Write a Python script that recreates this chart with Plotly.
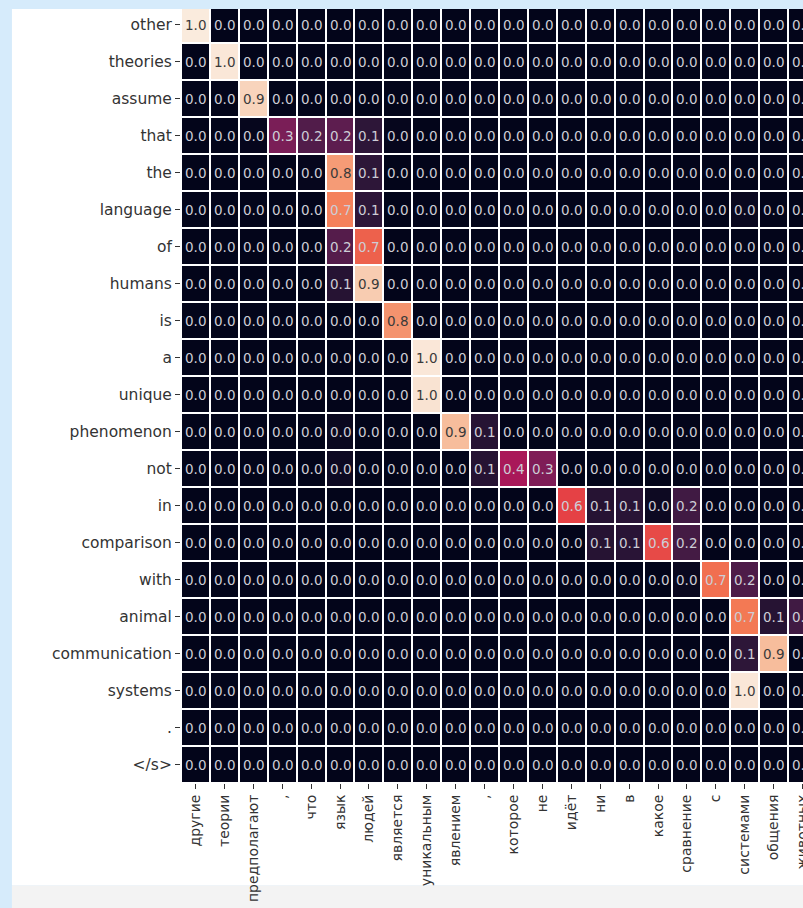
import plotly.graph_objects as go

# ---------------- data ----------------
src_tokens = ["other", "theories", "assume", "that", "the", "language", "of", "humans",
              "is", "a", "unique", "phenomenon", "not", "in", "comparison", "with",
              "animal", "communication", "systems", ".", "</s>"]
tgt_tokens = ["другие", "теории", "предполагают", ",", "что", "язык", "людей", "является",
              "уникальным", "явлением", ",", "которое", "не", "идёт", "ни", "в", "какое",
              "сравнение", "с", "системами", "общения", "животных"]

#                 0     1     2     3     4     5     6     7     8     9    10    11    12    13    14    15    16    17    18    19    20    21
w_other =        [1.00, 0.00, 0.00, 0.00, 0.00, 0.00, 0.00, 0.00, 0.00, 0.00, 0.00, 0.00, 0.00, 0.00, 0.00, 0.00, 0.00, 0.00, 0.00, 0.00, 0.00, 0.00]
w_theories =     [0.00, 0.99, 0.00, 0.00, 0.00, 0.00, 0.00, 0.00, 0.00, 0.00, 0.00, 0.00, 0.00, 0.00, 0.00, 0.00, 0.00, 0.00, 0.00, 0.00, 0.00, 0.00]
w_assume =       [0.00, 0.00, 0.94, 0.00, 0.00, 0.00, 0.00, 0.00, 0.00, 0.00, 0.00, 0.00, 0.00, 0.00, 0.00, 0.00, 0.00, 0.00, 0.00, 0.00, 0.00, 0.00]
w_that =         [0.00, 0.00, 0.01, 0.31, 0.21, 0.24, 0.12, 0.01, 0.00, 0.00, 0.00, 0.00, 0.00, 0.00, 0.00, 0.00, 0.00, 0.00, 0.00, 0.00, 0.00, 0.00]
w_the =          [0.00, 0.00, 0.00, 0.00, 0.01, 0.80, 0.12, 0.00, 0.00, 0.00, 0.00, 0.00, 0.00, 0.00, 0.00, 0.00, 0.00, 0.00, 0.00, 0.00, 0.00, 0.00]
w_language =     [0.00, 0.00, 0.00, 0.00, 0.00, 0.74, 0.12, 0.00, 0.00, 0.00, 0.00, 0.00, 0.00, 0.00, 0.00, 0.00, 0.00, 0.00, 0.00, 0.02, 0.00, 0.00]
w_of =           [0.00, 0.00, 0.00, 0.00, 0.00, 0.22, 0.67, 0.00, 0.00, 0.00, 0.00, 0.00, 0.00, 0.00, 0.00, 0.00, 0.00, 0.00, 0.00, 0.00, 0.00, 0.00]
w_humans =       [0.00, 0.00, 0.00, 0.00, 0.00, 0.10, 0.92, 0.00, 0.00, 0.00, 0.00, 0.00, 0.00, 0.00, 0.00, 0.00, 0.00, 0.00, 0.00, 0.00, 0.00, 0.00]
w_is =           [0.00, 0.00, 0.00, 0.00, 0.00, 0.00, 0.00, 0.78, 0.00, 0.00, 0.00, 0.00, 0.00, 0.00, 0.00, 0.00, 0.00, 0.00, 0.00, 0.00, 0.00, 0.00]
w_a =            [0.00, 0.00, 0.00, 0.00, 0.00, 0.00, 0.00, 0.00, 0.99, 0.00, 0.00, 0.00, 0.00, 0.00, 0.00, 0.00, 0.00, 0.00, 0.00, 0.00, 0.00, 0.00]
w_unique =       [0.00, 0.00, 0.00, 0.00, 0.00, 0.00, 0.00, 0.00, 0.98, 0.00, 0.00, 0.00, 0.00, 0.00, 0.00, 0.00, 0.00, 0.00, 0.00, 0.00, 0.00, 0.00]
w_phenomenon =   [0.00, 0.00, 0.00, 0.00, 0.00, 0.02, 0.00, 0.00, 0.00, 0.88, 0.10, 0.00, 0.00, 0.00, 0.00, 0.00, 0.00, 0.00, 0.00, 0.00, 0.00, 0.00]
w_not =          [0.00, 0.00, 0.00, 0.00, 0.00, 0.03, 0.00, 0.00, 0.00, 0.00, 0.10, 0.42, 0.32, 0.00, 0.00, 0.00, 0.00, 0.00, 0.00, 0.00, 0.00, 0.00]
w_in =           [0.00, 0.00, 0.00, 0.00, 0.00, 0.00, 0.00, 0.00, 0.00, 0.00, 0.00, 0.00, 0.00, 0.60, 0.10, 0.11, 0.03, 0.17, 0.00, 0.00, 0.00, 0.00]
w_comparison =   [0.00, 0.00, 0.00, 0.00, 0.00, 0.00, 0.00, 0.00, 0.00, 0.00, 0.00, 0.00, 0.00, 0.00, 0.10, 0.11, 0.62, 0.18, 0.00, 0.00, 0.00, 0.00]
w_with =         [0.00, 0.00, 0.00, 0.00, 0.00, 0.00, 0.00, 0.00, 0.00, 0.00, 0.00, 0.00, 0.00, 0.00, 0.00, 0.00, 0.00, 0.02, 0.70, 0.20, 0.00, 0.00]
w_animal =       [0.00, 0.00, 0.00, 0.00, 0.00, 0.00, 0.00, 0.00, 0.00, 0.00, 0.00, 0.00, 0.00, 0.00, 0.00, 0.00, 0.00, 0.00, 0.00, 0.72, 0.10, 0.17]
w_communication =[0.00, 0.00, 0.00, 0.00, 0.00, 0.00, 0.00, 0.00, 0.00, 0.00, 0.00, 0.00, 0.00, 0.00, 0.00, 0.00, 0.00, 0.00, 0.00, 0.12, 0.88, 0.00]
w_systems =      [0.00, 0.00, 0.00, 0.00, 0.00, 0.00, 0.00, 0.00, 0.00, 0.00, 0.00, 0.00, 0.00, 0.00, 0.00, 0.00, 0.00, 0.00, 0.00, 0.99, 0.00, 0.00]
w_period =       [0.00, 0.00, 0.00, 0.00, 0.00, 0.00, 0.00, 0.00, 0.00, 0.00, 0.00, 0.00, 0.00, 0.00, 0.00, 0.00, 0.00, 0.00, 0.00, 0.00, 0.00, 0.00]
w_eos =          [0.00, 0.00, 0.00, 0.00, 0.00, 0.00, 0.00, 0.00, 0.00, 0.00, 0.00, 0.00, 0.00, 0.00, 0.00, 0.00, 0.00, 0.00, 0.00, 0.00, 0.00, 0.00]

weights = [w_other, w_theories, w_assume, w_that, w_the, w_language, w_of, w_humans,
           w_is, w_a, w_unique, w_phenomenon, w_not, w_in, w_comparison, w_with,
           w_animal, w_communication, w_systems, w_period, w_eos]

# ---------------- style ----------------
rocket_stops = [(0.000, "#03051a"), (0.143, "#35193e"), (0.286, "#701f57"), (0.429, "#ad1759"),
                (0.571, "#e13342"), (0.714, "#f37651"), (0.857, "#f6b48f"), (1.000, "#faebdd")]


def hex2rgb(h):
    h = h.lstrip("#")
    return [int(h[i:i + 2], 16) / 255.0 for i in (0, 2, 4)]


def cmap(v):
    v = min(max(v, 0.0), 1.0)
    for (p0, c0), (p1, c1) in zip(rocket_stops[:-1], rocket_stops[1:]):
        if v <= p1:
            t = (v - p0) / (p1 - p0)
            a, b = hex2rgb(c0), hex2rgb(c1)
            return [a[i] + (b[i] - a[i]) * t for i in range(3)]
    return hex2rgb(rocket_stops[-1][1])


def luminance(rgb):
    lin = [c / 12.92 if c <= 0.03928 else ((c + 0.055) / 1.055) ** 2.4 for c in rgb]
    return 0.2126 * lin[0] + 0.7152 * lin[1] + 0.0722 * lin[2]


FONT = "DejaVu Sans"
W, H = 830, 908
L, T = 181, 6
CELL_W, CELL_H = 28.9, 37.19
ncol, nrow = len(tgt_tokens), len(src_tokens)
PW, PH = CELL_W * ncol, CELL_H * nrow
R = W - L - PW
B = H - T - PH


def fx(px):
    return (px - L) / PW


def fy(py):
    return 1 - (py - T) / PH


fig = go.Figure(go.Heatmap(
    z=weights,
    x=list(range(ncol)),
    y=list(range(nrow)),
    zmin=0, zmax=1,
    colorscale=[[p, c] for p, c in rocket_stops],
    showscale=False,
    xgap=2, ygap=2,
    hoverinfo="skip",
))

annotations = []
for i, row in enumerate(weights):
    for j, v in enumerate(row):
        col = "#3a3a3a" if luminance(cmap(v)) > 0.408 else "#cdcdd6"
        annotations.append(dict(x=j, y=i, xref="x", yref="y", text=f"{v:.1f}",
                                showarrow=False, font=dict(family=FONT, size=13.5, color=col)))


def esc(s):
    return s.replace("&", "&amp;").replace("<", "&lt;").replace(">", "&gt;")


BLUE = "#d6ebfb"
shapes = [
    dict(type="rect", xref="paper", yref="paper", x0=fx(12), x1=fx(W + 5), y0=fy(9), y1=fy(890),
         fillcolor="white", line_width=0, layer="below"),
    dict(type="rect", xref="paper", yref="paper", x0=fx(12), x1=fx(W + 5), y0=fy(890), y1=fy(H + 5),
         fillcolor="#f3f3f3", line_width=0, layer="below"),
    dict(type="rect", xref="paper", yref="paper", x0=fx(-5), x1=fx(W + 5), y0=fy(-5), y1=fy(9),
         fillcolor=BLUE, line_width=0, layer="above"),
]

fig.update_layout(
    width=W, height=H,
    margin=dict(l=L, r=R, t=T, b=B, pad=0),
    paper_bgcolor=BLUE,
    plot_bgcolor="white",
    font=dict(family=FONT, color="#333333"),
    showlegend=False,
    annotations=annotations,
    shapes=shapes,
    xaxis=dict(
        range=[-0.5, ncol - 0.5], tickmode="array", tickvals=list(range(ncol)),
        ticktext=[esc(t) for t in tgt_tokens], tickangle=-90,
        ticks="outside", ticklen=5, tickwidth=1, tickcolor="#333333",
        tickfont=dict(family=FONT, size=14, color="#333333"),
        showgrid=False, zeroline=False, showline=False, fixedrange=True,
    ),
    yaxis=dict(
        range=[nrow - 0.5, -0.5], tickmode="array", tickvals=list(range(nrow)),
        ticktext=[esc(t) for t in src_tokens],
        ticks="outside", ticklen=5, tickwidth=1, tickcolor="#333333",
        tickfont=dict(family=FONT, size=15.5, color="#333333"),
        showgrid=False, zeroline=False, showline=False, fixedrange=True,
    ),
)

fig.write_html(
    "out.html",
    config={"displayModeBar": False, "staticPlot": True},
    post_script="document.documentElement.style.overflow='hidden';"
                "document.body.style.overflow='hidden';"
                "document.body.style.margin='0px';"
                "document.body.style.background='" + BLUE + "';",
)
